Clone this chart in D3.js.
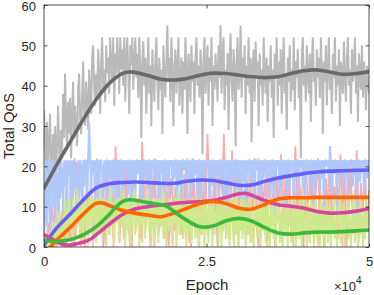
<!DOCTYPE html>
<html><head><meta charset="utf-8">
<script src="https://cdn.jsdelivr.net/npm/d3@7"></script>
<style>body{margin:0;background:#fff}svg{display:block}</style>
</head><body>
<svg id="c" width="374" height="295"></svg>
<script>
// ---- data ----
const xTicks = [0, 25000, 50000];
const xTickLabels = ["0", "2.5", "5"];
const yTicks = [0, 10, 20, 30, 40, 50, 60];

const grayRaw = [34,27,20,31,18,25,33,22,16,28,21,30,19,24,35,26,17,29,23,38,27,43,31,24,36,
 28,37,22,33,41,27,35,30,25,39,43,32,28,37,46,34,30,41,36,29,44,38,33,47,50,
 40,35,43,37,49,42,33,46,52,39,44,36,50,43,47,38,52,45,41,52,35,48,43,52,46,
 38,52,44,49,40,52,36,47,52,43,33,50,45,52,39,46,52,42,48,37,52,44,27,46,51,
 40,47,33,43,52,38,45,30,49,42,36,46,52,41,34,47,39,44,28,50,43,37,46,55,41,
 47,36,52,43,30,45,49,38,44,52,35,41,47,33,46,39,52,42,28,48,44,36,50,41,46,
 33,47,52,40,45,37,49,43,23,46,52,38,44,50,35,47,41,52,30,45,39,48,43,36,50,
 42,55,38,46,52,34,44,40,48,29,47,53,41,36,49,44,25,46,52,39,43,55,37,47,42,
 50,33,45,40,52,38,47,26,44,49,36,51,42,46,30,48,40,44,35,52,43,38,47,31,45,
 41,50,37,44,27,48,42,52,35,46,40,49,33,45,52,38,43,29,47,41,50,36,44,39,52,
 34,46,42,49,37,44,22,47,52,40,45,36,50,43,38,48,31,46,52,41,44,35,49,42,47,
 37,52,44,28,46,41,50,35,45,52,39,43,33,48,42,52,36,45,40,49,30,46,43,38,51,
 42,36,47,52,40,44,33,49,41,46,52,38,45,31,48,43,39,50,37,46,42,34,45,40,38];
const blueRaw = [2,8,21.5,5,14,21.5,3,18,21.5,10,21.5,6,21.5,16,4,21.5,12,21.5,19,7,21.5,15,21.5,9,21.5,
 18,21.5,5,21.5,13,21.5,21.5,8,17,21.5,11,21.5,20,6,21.5,15,21.5,21.5,10,21.5,31,21.5,14,21.5,18,
 21.5,7,21.5,16,21.5,12,21.5,21.5,19,4,21.5,14,21.5,21.5,9,21.5,17,21.5,13,21.5,21.5,6,21.5,18,21.5,
 11,21.5,21.5,15,21.5,8,21.5,19,21.5,13,21.5,21.5,5,21.5,16,21.5,10,21.5,21.5,18,21.5,12,21.5,7,21.5,
 21.5,17,21.5,14,21.5,21.5,9,21.5,19,21.5,12,21.5,21.5,16,21.5,4,21.5,18,21.5,11,21.5,21.5,15,21.5,8,
 21.5,20,21.5,13,21.5,17,21.5,21.5,6,21.5,15,21.5,10,21.5,21.5,19,21.5,12,21.5,16,21.5,8,21.5,21.5,14,
 21.5,18,21.5,11,21.5,21.5,5,21.5,17,21.5,13,21.5,21.5,20,21.5,9,21.5,15,21.5,21.5,7,21.5,18,21.5,12,
 21.5,21.5,16,21.5,10,21.5,19,21.5,4,21.5,14,21.5,21.5,17,21.5,8,21.5,21.5,13,21.5,20,21.5,11,21.5,16,
 21.5,6,21.5,18,21.5,21.5,12,21.5,15,21.5,9,21.5,21.5,19,21.5,3,21.5,14,21.5,17,21.5,21.5,10,21.5,18,
 21.5,13,21.5,21.5,7,21.5,16,21.5,20,21.5,11,21.5,21.5,15,21.5,18,21.5,5,21.5,21.5,14,21.5,19,21.5,9,
 21.5,17,21.5,21.5,12,21.5,20,21.5,15,21.5,8,21.5,21.5,18,21.5,13,21.5,21.5,16,21.5,6,21.5,19,21.5,21.5,
 14,21.5,17,21.5,10,21.5,21.5,20,21.5,15,25,21.5,12,21.5,18,21.5,21.5,8,21.5,16,21.5,19,21.5,13,21.5,
 21.5,17,21.5,11,21.5,20,21.5,21.5,15,21.5,18,21.5,7,21.5,21.5,16,21.5,19,21.5,12,21.5,21.5,17,21.5,20];
const greenRaw = [1,0,3,1,2,0,4,2,1,5,0,3,7,1,4,9,2,6,0,8,3,12,5,1,9,
 12,4,8,0,12,6,10,2,14.5,7,12,3,9,12,1,11,5,12,8,0,12,6,14.5,3,10,
 12,7,1,12,9,4,14.5,11,2,12,6,10,0,12,8,3,12,14.5,5,11,1,9,12,6,12,
 2,12,10,5,14.5,8,0,12,11,4,12,7,1,12,9,14.5,3,12,6,10,0,12,8,5,12,
 11,2,12,7,14.5,4,10,0,12,8,3,12,6,11,1,12,9,5,14.5,2,12,7,0,10,12,
 4,12,8,1,11,6,12,0,9,14.5,3,12,5,10,2,12,7,0,11,4,12,8,1,12,6,
 10,2,12,5,0,9,12,3,7,11,0,12,4,8,1,12,6,10,0,12,3,9,5,12,1,
 7,12,0,10,4,12,8,2,11,5,0,12,6,9,1,12,3,14.5,7,0,10,4,12,2,8,
 12,0,6,11,3,9,12,1,7,0,12,5,10,2,12,8,0,11,4,12,6,1,9,12,3,
 0,10,5,12,2,8,0,11,6,12,1,9,4,0,12,7,3,10,0,12,5,8,1,11,4,
 12,0,7,10,2,12,5,0,9,12,3,6,0,11,8,1,12,4,10,0,7,12,2,9,5,
 0,12,6,3,10,0,8,12,1,5,11,0,9,4,12,2,7,0,10,6,12,1,8,3,11,
 0,9,5,12,2,7,0,11,4,12,1,8,6,0,10,3,12,5,0,9,2,12,7,4,10];
const redRaw = [2,0,6,1,11,3,0,15,4,9,0,18,6,2,13,0,21,7,3,12,
 0,16,5,19,2,10,22,4,14,0,8,20,3,17,6,25,11,1,15,9,
 21,4,13,0,18,7,12,2,26,10,5,19,0,14,22,8,3,16,11,20,
 6,0,17,12,4,21,9,15,2,18,7,13,0,22,10,5,19,3,14,8,
 28,11,4,16,9,0,20,13,28,6,17,2,24,10,15,0,19,7,12,21,
 3,14,9,22,5,0,18,11,16,2,20,8,13,0,17,10,23,4,15,7,
 19,1,12,25,6,16,10,0,21,13,3,18,8,14,22,5,11,0,17,9,
 20,4,15,12,2,23,8,17,0,13,19,6,11,24,3,16,9,21,5,14];
const orangeRaw = [0,0,1,0,3,0,2,6,1,9,4,13,2,17,8,22,5,11,0,15,
 7,19,3,12,0,16,9,21,4,13,1,18,6,10,0,14,20,5,11,2,
 17,8,0,13,19,4,10,15,1,21,7,12,3,16,0,9,18,6,14,2,
 11,20,5,0,15,9,13,3,18,7,22,1,12,16,4,10,0,19,8,14,
 3,17,11,6,21,0,13,9,16,2,19,7,12,0,15,10,20,4,14,8,
 18,1,11,16,6,22,3,13,9,0,17,12,5,20,8,14,2,10,19,4,
 15,7,0,12,18,3,10,21,6,14,1,16,9,13,0,19,5,11,17,2,
 12,20,8,4,15,10,0,18,13,6,21,3,11,16,1,14,9,19,5,12];

const grayEp = [0,2000,4000,6000,8000,10000,12000,13000,14000,16000,18000,20000,22000,24000,26000,28000,30000,32000,34000,36000,38000,40000,42000,44000,46000,48000,50000];
const graySm = [14.6,20.5,26,31.5,36.5,40.5,43,43.4,43.3,42.5,41.6,41.4,41.8,42.6,43.1,43,42.6,42.2,42,42.2,43,43.7,43.9,43.4,42.8,43,43.5];
const blueEp = [0,2000,4000,6000,8000,10000,12000,14000,16000,18000,20000,22000,24000,26000,28000,30000,32000,34000,36000,38000,40000,42000,44000,46000,48000,50000];
const blueSm = [0.5,4.8,8.1,11.6,14.6,15.7,16.0,16.1,16.0,15.8,15.8,16.3,16.6,16.5,15.9,15.3,15.4,16.3,17.1,17.7,18.2,18.6,18.8,18.9,19.0,19.1];
const orangeEp = [600,2000,4000,6000,8000,9000,10000,12000,14000,16000,18000,20000,22000,24000,26000,28000,30000,32000,34000,36000,38000,40000,42000,44000,46000,48000,50000];
const orangeSm = [-0.8,1.8,4.8,8.1,10.8,10.9,10.3,9.1,8.4,7.9,7.5,8.4,9.6,10.8,11.3,10.8,9.6,9.4,10.6,11.9,12.2,12.2,12.3,12.3,12.3,12.3,12.3];
const greenEp = [0,2000,4000,6000,8000,10000,11000,12000,13000,14000,16000,18000,19000,20000,22000,24000,26000,28000,30000,32000,34000,36000,38000,40000,42000,44000,46000,48000,50000];
const greenSm = [1.7,1.4,1.8,3.0,5.0,8.0,9.8,11.2,11.7,11.6,11.0,10.5,10.0,8.8,6.6,5.0,5.2,6.5,7.1,6.4,4.8,3.5,3.2,3.5,3.7,3.7,3.8,4.0,4.2];
const magEp = [0,1000,2000,3000,4000,5000,6000,7000,8000,10000,12000,14000,16000,18000,20000,22000,24000,26000,28000,30000,31000,32000,34000,36000,38000,40000,42000,44000,46000,48000,50000];
const magSm = [3.0,2.3,1.2,0.6,0.5,0.8,1.2,1.8,3.0,5.6,8.0,9.4,10.0,10.4,10.8,11.1,11.2,11.5,12.3,13.2,13.3,12.8,11.5,10.5,10.1,9.6,8.8,8.4,8.5,8.9,9.5];

// ---- layout ----
const L = 44, R = 369, T = 5, B = 247;
const svg = d3.select("#c");
const x = d3.scaleLinear().domain([0, 50000]).range([L, R]);
const y = d3.scaleLinear().domain([0, 60]).range([B, T]);

svg.append("defs").append("clipPath").attr("id", "clip")
  .append("rect").attr("x", L).attr("y", T).attr("width", R - L).attr("height", B - T);

const g = svg.append("g").attr("clip-path", "url(#clip)");

function rawLine(arr, color, w) {
  const n = arr.length;
  const ln = d3.line().x((d, i) => x(i * 50000 / (n - 1))).y(d => y(d));
  g.append("path").attr("d", ln(arr)).attr("fill", "none")
    .attr("stroke", color).attr("stroke-width", w).attr("stroke-linejoin", "bevel");
}
function smoothLine(ep, vals, color) {
  const ln = d3.line().curve(d3.curveCatmullRom.alpha(0.5))
    .x((d, i) => x(ep[i])).y(d => y(d));
  g.append("path").attr("d", ln(vals)).attr("fill", "none")
    .attr("stroke", color).attr("stroke-width", 3.6).attr("stroke-linecap", "round");
}

rawLine(orangeRaw, "#ffc4a4", 1.7);
rawLine(redRaw, "#ffaaaa", 1.7);
rawLine(grayRaw, "#bababa", 2);
rawLine(blueRaw, "#b1c8fb", 2);
rawLine(greenRaw, "#cfe98f", 2);

smoothLine(grayEp, graySm, "#696969");
smoothLine(blueEp, blueSm, "#6560f6");
smoothLine(magEp, magSm, "#d4479c");
smoothLine(orangeEp, orangeSm, "#ff6600");
smoothLine(greenEp, greenSm, "#3cb83c");

// ---- axes (box) ----
const axisColor = "#262626";
const font = "'Liberation Sans', Arial, Helvetica, sans-serif";
const ax = svg.append("g");
ax.append("rect").attr("x", L).attr("y", T).attr("width", R - L).attr("height", B - T)
  .attr("fill", "none").attr("stroke", axisColor).attr("stroke-width", 0.8);

const bottomAxis = d3.axisBottom(x).tickValues(xTicks).tickSizeInner(-3.5).tickSizeOuter(0)
  .tickPadding(10).tickFormat((d, i) => xTickLabels[i]);
const ba = svg.append("g").attr("transform", `translate(0,${B})`).call(bottomAxis);
const topAxis = d3.axisTop(x).tickValues(xTicks).tickSizeInner(-3.5).tickSizeOuter(0).tickFormat("");
const ta = svg.append("g").attr("transform", `translate(0,${T})`).call(topAxis);
const leftAxis = d3.axisLeft(y).tickValues(yTicks).tickSizeInner(-3.5).tickSizeOuter(0).tickPadding(8);
const la = svg.append("g").attr("transform", `translate(${L},0)`).call(leftAxis);
const rightAxis = d3.axisRight(y).tickValues(yTicks).tickSizeInner(-3.5).tickSizeOuter(0).tickFormat("");
const ra = svg.append("g").attr("transform", `translate(${R},0)`).call(rightAxis);
[ba, ta, la, ra].forEach(a => {
  a.select(".domain").remove();
  a.selectAll("line").attr("stroke", axisColor).attr("stroke-width", 0.8);
  a.selectAll("text").attr("fill", axisColor).style("font-family", font).style("font-size", "13px");
});
la.selectAll("text").attr("dy", "0.4em");

svg.append("text").attr("x", 207).attr("y", 290).attr("text-anchor", "middle")
  .attr("fill", axisColor).style("font-family", font).style("font-size", "15px").text("Epoch");
svg.append("text").attr("transform", `translate(14,${(T + B) / 2}) rotate(-90)`).attr("text-anchor", "middle")
  .attr("fill", axisColor).style("font-family", font).style("font-size", "15px").text("Total QoS");
const ex = svg.append("text").attr("x", 334).attr("y", 291).attr("fill", axisColor)
  .style("font-family", font).style("font-size", "13px");
ex.append("tspan").text("×10");
ex.append("tspan").attr("dy", -7).style("font-size", "10px").text("4");
</script>
</body></html>
